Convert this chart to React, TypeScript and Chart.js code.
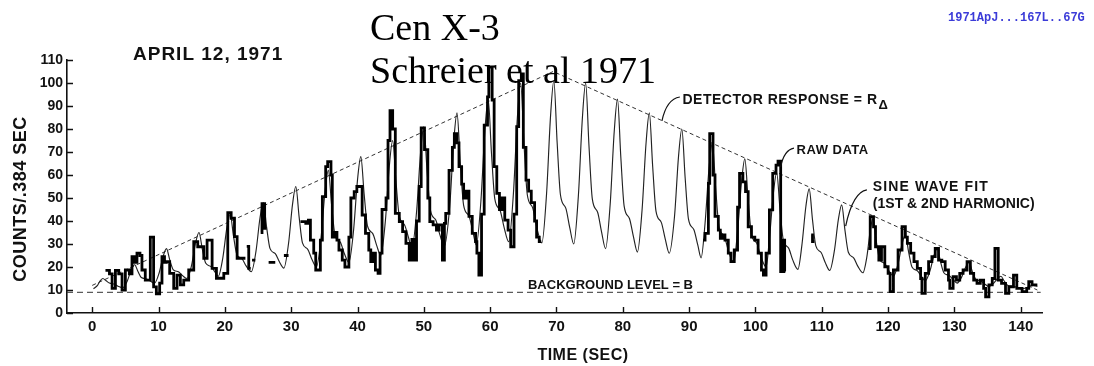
import React, { useEffect, useRef } from 'react';
import { Chart, registerables } from 'chart.js';

Chart.register(...registerables);

// ---------- data ----------
const xTicks = [0, 10, 20, 30, 40, 50, 60, 70, 80, 90, 100, 110, 120, 130, 140];
const yTicks = [0, 10, 20, 30, 40, 50, 60, 70, 80, 90, 100, 110];

// Sine wave fit (1st & 2nd harmonic): [time s, counts]
const sineFit: [number, number][] = [
  [0.2, 10.5], [0.8, 12], [1.2, 14], [1.6, 15], [2.1, 14], [2.6, 13], [3.4, 12.5], [4.0, 11.5],
  [4.6, 11], [5.3, 14], [5.9, 19], [6.4, 21], [6.9, 18], [7.4, 15.4], [8.2, 14.8], [8.8, 13.8],
  [9.4, 13], [10.1, 17.5], [10.7, 24.7], [11.2, 28], [11.7, 23], [12.2, 18.9], [13.0, 17.9], [13.6, 16.3],
  [14.3, 15], [15.0, 21], [15.6, 30.6], [16.1, 35], [16.6, 27.8], [17.1, 21.7], [17.9, 20.2], [18.5, 17.9],
  [19.0, 16], [19.7, 24.1], [20.3, 37], [20.8, 43], [21.3, 33.5], [21.8, 25.5], [22.6, 23.5], [23.2, 20.5],
  [24.0, 18], [24.7, 27], [25.3, 41.4], [25.8, 48], [26.3, 37.2], [26.8, 28.1], [27.6, 25.8], [28.2, 22.4],
  [28.9, 19.5], [29.6, 30.2], [30.2, 47.2], [30.7, 55], [31.2, 41.7], [31.7, 30.5], [32.5, 27.7], [33.1, 23.5],
  [33.8, 20], [34.5, 32.6], [35.1, 52.8], [35.6, 62], [36.1, 46.8], [36.6, 34], [37.4, 30.8], [38.0, 26],
  [38.7, 22], [39.4, 35.8], [40.0, 57.9], [40.5, 68], [41.0, 51.7], [41.5, 37.9], [42.3, 34.5], [42.9, 29.3],
  [43.5, 25], [44.2, 40], [44.8, 64], [45.3, 75], [45.8, 57.1], [46.3, 42.1], [47.1, 38.3], [47.7, 32.7],
  [48.2, 28], [48.9, 43.9], [49.5, 69.3], [50.0, 81], [50.5, 61.2], [51.0, 44.6], [51.8, 40.4], [52.4, 34.2],
  [53.1, 29], [53.9, 46.4], [54.5, 74.2], [55.0, 87], [55.5, 65.2], [56.0, 46.8], [56.8, 42.2], [57.4, 35.3],
  [57.9, 29.5], [58.6, 48.5], [59.2, 79], [59.7, 93], [60.2, 69.4], [60.7, 49.6], [61.5, 44.6], [62.1, 37.2],
  [62.8, 31], [63.5, 51.7], [64.1, 84.8], [64.6, 100], [65.1, 73.6], [65.6, 51.4], [66.4, 45.8], [67.0, 37.5],
  [67.8, 30.5], [68.5, 51.7], [69.1, 85.5], [69.6, 101], [70.1, 74], [70.6, 51.3], [71.4, 45.6], [72.0, 37.1],
  [72.6, 30], [73.3, 51], [73.9, 84.6], [74.4, 100], [74.9, 72.6], [75.4, 49.6], [76.2, 43.8], [76.8, 35.2],
  [77.4, 28], [78.1, 47.5], [78.7, 78.7], [79.2, 93], [79.7, 67.7], [80.2, 46.5], [81.0, 41.1], [81.6, 33.2],
  [82.2, 26.5], [82.9, 44.7], [83.5, 73.7], [84.0, 87], [84.5, 63.8], [85.0, 44.3], [85.8, 39.4], [86.4, 32.1],
  [87.0, 26], [87.8, 42.2], [88.4, 68.1], [88.9, 80], [89.4, 58.7], [89.9, 40.8], [90.7, 36.3], [91.3, 29.6],
  [91.8, 24], [92.4, 39], [93.0, 63], [93.5, 74], [94.0, 54.2], [94.5, 37.6], [95.3, 33.4], [95.9, 27.2],
  [96.7, 22], [97.3, 35.5], [97.9, 57.1], [98.4, 67], [98.9, 49.1], [99.4, 34.1], [100.2, 30.3], [100.8, 24.7],
  [101.6, 20], [102.1, 32.3], [102.7, 52], [103.2, 61], [103.7, 45], [104.2, 31.6], [105.0, 28.2], [105.6, 23.2],
  [106.4, 19], [107.0, 29.5], [107.6, 46.3], [108.1, 54], [108.6, 40.5], [109.1, 29.2], [109.9, 26.3], [110.5, 22.1],
  [111.2, 18.5], [111.9, 27.1], [112.5, 40.7], [113.0, 47], [113.5, 35.8], [114.0, 26.4], [114.8, 24], [115.4, 20.5],
  [116.2, 17.5], [116.8, 24.5], [117.3, 35.8], [117.7, 41], [118.2, 31.5], [118.7, 23.5], [119.5, 21.5], [120.1, 18.5],
  [120.8, 16], [121.5, 21.4], [122.1, 30], [122.6, 34], [123.1, 26.4], [123.6, 20], [124.4, 18.4], [125.0, 16],
  [125.6, 14], [126.3, 18.2], [126.9, 24.9], [127.4, 28], [127.9, 22.3], [128.4, 17.5], [129.2, 16.3], [129.8, 14.5],
  [130.4, 13], [131.1, 15.7], [131.7, 20], [132.2, 22], [132.7, 18], [133.2, 14.7], [134.0, 13.8], [134.6, 12.5],
  [135.2, 11.5], [135.9, 12.9], [136.5, 15], [137.0, 16], [137.5, 13.9], [138.0, 12.1], [138.8, 11.7], [139.4, 11.1],
  [140.2, 10.5], [140.9, 11], [141.5, 11.8], [141.9, 12], [142.5, 11.5],
];

// Raw data, counts per .384 s bin: [bin start time s, counts]; null = no data
const rawData: [number, number | null][] = [
  [2.0, 18.5], [2.6, 17], [3.0, 10.7], [3.5, 18.5], [4.0, 17], [4.5, 10], [5.0, 18.7], [5.6, 17],
  [6.0, 24.5], [6.4, 22], [6.75, 26], [7.2, 25], [7.5, 18.7], [8.0, 14.3], [8.76, 33], [9.26, 11.4],
  [9.67, 8.3], [10.17, 13], [10.52, 24.5], [10.9, 22], [11.18, 22.3], [11.68, 17.2], [12.29, 10.7], [12.79, 16.5],
  [13.29, 12.2], [13.8, 14.3], [14.55, 18.7], [15.31, 31], [15.91, 28.8], [16.82, 23.8], [17.32, 31.7], [18.08, 19.4],
  [18.73, 15.1], [19.84, 17.2], [20.44, 43.6], [20.95, 41.2], [21.45, 33.2], [21.85, 23.8], [23.1, 23.8], [23.2, null],
  [23.3, 29], [23.6, 19.4], [23.9, 19.4], [24.0, null], [24.1, 23], [24.6, 23], [24.7, null],
  [25.4, 35], [25.6, 47.5], [26.0, 36.8], [26.3, 36.8], [26.4, null],
  [26.6, 22], [27.6, 22], [27.7, null], [28.9, 25], [29.6, 25], [29.7, null],
  [31.4, 39.7], [32.2, 39], [32.6, 40.4], [32.9, 31.7], [33.4, 26], [33.7, 18.7], [34.4, 31.7], [34.7, 50.6],
  [35.2, 63.6], [35.5, 65.8], [36.0, 60], [36.2, 33], [36.6, 35], [36.9, 31.7], [37.2, 27.4], [37.7, 23],
  [38.1, 20], [38.7, 33], [39.0, 50], [39.5, 52.8], [39.9, 55], [40.4, 55], [40.7, 42.6], [41.2, 34.6],
  [41.7, 27.4], [42.0, 22.3], [42.3, 26], [42.7, 18.7], [43.1, 17.2], [43.4, 26], [43.7, 45], [44.3, 50],
  [44.6, 75], [44.9, 88], [45.3, 80], [45.7, 43.3], [46.3, 39.7], [46.8, 35.4], [47.3, 30.3], [47.8, 23],
  [48.2, 32], [48.6, 23], [48.9, 40], [49.3, 55], [49.6, 80.5], [50.1, 71], [50.6, 50], [50.9, 39.7],
  [51.4, 38.3], [51.9, 36], [52.3, 38.3], [52.8, 23], [53.1, 39], [53.3, 43.3], [53.8, 62], [54.3, 72],
  [54.6, 78], [55.0, 74], [55.3, 63.6], [55.7, 56], [56.0, 50], [56.4, 53], [56.8, 42], [57.3, 34.6],
  [57.8, 31], [58.0, 26], [58.3, 16.5], [58.7, 43], [59.1, 81.7], [59.6, 94], [59.8, 107], [60.3, 92.6],
  [60.6, 63.6], [61.0, 52], [61.4, 45], [61.8, 50], [62.2, 40.4], [62.7, 36], [63.1, 28.8], [63.6, 43],
  [64.0, 81], [64.3, 101], [64.7, 104], [65.0, 72], [65.4, 57.8], [65.8, 53], [66.2, 48], [66.7, 40],
  [67.0, 33], [67.4, 31], [67.7, 31], [67.8, null],
  [92.1, 31.7], [92.4, 34.6], [92.9, 56.4], [93.1, 78], [93.6, 60], [93.9, 42], [94.4, 36], [94.7, 32.5],
  [95.1, 34], [95.4, 31.7], [95.9, 26], [96.3, 22.3], [96.8, 27.4], [97.3, 46], [97.6, 60.7], [98.1, 57],
  [98.5, 52.8], [98.9, 37.5], [99.4, 33], [99.9, 31.7], [100.4, 26], [100.9, 18.7], [101.2, 16.5], [101.6, 26],
  [102.1, 44.8], [102.6, 60.7], [103.1, 64.3], [103.4, 66], [103.8, 18], [104.0, 31.7], [104.4, 18], [104.5, 18],
  [104.6, null],
  [108.4, 34], [108.6, 31], [108.9, 31], [109.0, null],
  [117.0, 28], [117.3, 41.9], [117.8, 37.5], [118.1, 28.8], [118.6, 23], [119.0, 28.8], [119.5, 20.1], [120.0, 17.2],
  [120.3, 9.3], [120.8, 18.7], [121.5, 27.4], [122.1, 37.5], [122.6, 33], [122.9, 30.3], [123.4, 26], [123.9, 22.3],
  [124.4, 19.4], [124.9, 15], [125.1, 8.5], [125.6, 17.2], [126.1, 22.3], [126.6, 24.5], [127.1, 28.1], [127.6, 23],
  [128.1, 22.3], [128.6, 18.7], [129.1, 14.3], [129.3, 10.7], [129.8, 15.8], [130.3, 14.3], [130.8, 17.2], [131.3, 18.7],
  [131.9, 22.3], [132.4, 17.2], [132.9, 14.3], [133.4, 12.9], [133.9, 14.3], [134.4, 10.7], [134.7, 7], [135.2, 12.2],
  [135.7, 15], [136.1, 28.1], [136.6, 14.3], [137.1, 12.9], [137.7, 8.5], [138.2, 11.4], [138.9, 16.5], [139.4, 10.7],
  [140.2, 9.3], [140.9, 10.7], [141.2, 13.6], [141.7, 12.2], [142.5, 12.2],
];

// Detector response R_delta (triangle) and background level B
const detectorResponse: [number, number][] = [[0, 12], [69.5, 105], [142.5, 10]];
const backgroundLevel: [number, number][] = [[-3.8, 9], [143, 9]];

// ---------- styling / layout (not data) ----------
const SANS = "'Liberation Sans', Arial, sans-serif";
const SERIF = "'Liberation Serif', 'Times New Roman', serif";
const INK = '#111';

const annotations = [
  { text: 'DETECTOR RESPONSE = R', t: 89.0, v: 92.6, size: 14, spacing: 0.5, sub: 'Δ' },
  { text: 'RAW DATA', t: 106.2, v: 70.9, size: 13, spacing: 0.5 },
  { text: 'SINE WAVE FIT', t: 117.7, v: 54.8, size: 14, spacing: 1.1 },
  { text: '(1ST & 2ND HARMONIC)', t: 117.7, v: 47.4, size: 14, spacing: 0 },
  { text: 'BACKGROUND LEVEL = B', t: 65.7, v: 12.2, size: 13, spacing: 0 },
];
const leaders = [
  { from: [88.6, 93.9], ctrl: [86.6, 93.0], to: [85.9, 83.5] },
  { from: [105.8, 71.7], ctrl: [104.3, 70.9], to: [103.8, 63.5] },
  { from: [116.8, 53.5], ctrl: [114.7, 52.6], to: [113.6, 37.8] },
];

const overlayPlugin = {
  id: 'overlay',
  afterDraw(chart: any) {
    const { ctx, chartArea } = chart;
    const x = chart.scales.x;
    const y = chart.scales.y;
    ctx.save();
    // inward tick marks
    ctx.strokeStyle = INK;
    ctx.lineWidth = 1.4;
    ctx.beginPath();
    for (const t of xTicks) {
      const px = Math.round(x.getPixelForValue(t)) + 0.5;
      ctx.moveTo(px, chartArea.bottom);
      ctx.lineTo(px, chartArea.bottom - 6);
    }
    for (const v of yTicks) {
      const py = Math.round(y.getPixelForValue(v)) + 0.5;
      ctx.moveTo(chartArea.left, py);
      ctx.lineTo(chartArea.left + 6, py);
    }
    ctx.stroke();

    // annotation leaders
    ctx.lineWidth = 1.2;
    ctx.beginPath();
    for (const l of leaders) {
      ctx.moveTo(x.getPixelForValue(l.from[0]), y.getPixelForValue(l.from[1]));
      ctx.quadraticCurveTo(
        x.getPixelForValue(l.ctrl[0]), y.getPixelForValue(l.ctrl[1]),
        x.getPixelForValue(l.to[0]), y.getPixelForValue(l.to[1])
      );
    }
    ctx.stroke();

    // annotation labels
    ctx.fillStyle = INK;
    ctx.textAlign = 'left';
    ctx.textBaseline = 'middle';
    for (const a of annotations) {
      ctx.font = `bold ${a.size}px ${SANS}`;
      (ctx as any).letterSpacing = `${a.spacing}px`;
      const px = x.getPixelForValue(a.t);
      const py = y.getPixelForValue(a.v);
      ctx.fillText(a.text, px, py);
      if (a.sub) {
        const w = ctx.measureText(a.text).width;
        ctx.font = `bold ${a.size - 1}px ${SANS}`;
        ctx.fillText(a.sub, px + w + 1, py + 5);
      }
    }

    // axis titles
    (ctx as any).letterSpacing = '0.5px';
    ctx.font = `bold 16px ${SANS}`;
    ctx.textAlign = 'center';
    ctx.fillText('TIME (SEC)', 583, 356);
    ctx.save();
    ctx.translate(21, 199);
    ctx.rotate(-Math.PI / 2);
    ctx.font = `bold 18px ${SANS}`;
    ctx.fillText('COUNTS/.384 SEC', 0, 0);
    ctx.restore();

    // date
    (ctx as any).letterSpacing = '1px';
    ctx.textAlign = 'left';
    ctx.font = `bold 19px ${SANS}`;
    ctx.fillText('APRIL 12, 1971', 133, 55);

    // title text
    (ctx as any).letterSpacing = '0px';
    ctx.textBaseline = 'alphabetic';
    ctx.font = `38px ${SERIF}`;
    ctx.fillStyle = '#000';
    ctx.fillText('Cen X-3', 370, 40);
    ctx.fillText('Schreier et al 1971', 370, 83);

    // bibcode
    ctx.textBaseline = 'middle';
    ctx.font = `bold 12px 'Liberation Mono', 'DejaVu Sans Mono', monospace`;
    ctx.fillStyle = '#3b3bd8';
    ctx.fillText('1971ApJ...167L..67G', 948, 18);
    ctx.restore();
  },
};

export default function App() {
  const canvasRef = useRef<HTMLCanvasElement>(null);

  useEffect(() => {
    const canvas = canvasRef.current;
    if (!canvas) return;
    const chart = new Chart(canvas, {
      type: 'line',
      data: {
        datasets: [
          {
            label: 'Raw data',
            data: rawData.map(([t, v]) => ({ x: t, y: v })),
            borderColor: '#000',
            borderWidth: 2.8,
            stepped: 'before',
            spanGaps: false,
            pointRadius: 0,
            fill: false,
            order: 0,
          } as any,
          {
            label: 'Sine wave fit',
            data: sineFit.map(([t, v]) => ({ x: t, y: v })),
            borderColor: '#222',
            borderWidth: 1.15,
            cubicInterpolationMode: 'monotone',
            pointRadius: 0,
            fill: false,
            order: 1,
          },
          {
            label: 'Detector response',
            data: detectorResponse.map(([t, v]) => ({ x: t, y: v })),
            borderColor: '#333',
            borderWidth: 1,
            borderDash: [4, 3],
            pointRadius: 0,
            fill: false,
            order: 2,
          },
          {
            label: 'Background level',
            data: backgroundLevel.map(([t, v]) => ({ x: t, y: v })),
            borderColor: '#333',
            borderWidth: 1,
            borderDash: [6, 4],
            pointRadius: 0,
            fill: false,
            order: 3,
          },
        ],
      },
      options: {
        responsive: false,
        animation: false,
        devicePixelRatio: 1,
        layout: { padding: { top: 60, right: 52, left: 0, bottom: 0 } },
        plugins: {
          legend: { display: false },
          tooltip: { enabled: false },
          title: { display: false },
        },
        scales: {
          x: {
            type: 'linear',
            min: -3.8,
            max: 143.2,
            afterBuildTicks: (s: any) => {
              s.ticks = xTicks.map((v) => ({ value: v }));
            },
            afterFit: (s: any) => {
              s.height = 53;
            },
            grid: { display: true, drawOnChartArea: false, drawTicks: false },
            border: { display: true, color: INK, width: 1.6 },
            ticks: {
              padding: 5,
              color: INK,
              autoSkip: false,
              maxRotation: 0,
              font: { family: SANS, size: 15, weight: 'bold' },
            },
          },
          y: {
            type: 'linear',
            min: 0,
            max: 110,
            afterBuildTicks: (s: any) => {
              s.ticks = yTicks.map((v) => ({ value: v }));
            },
            afterFit: (s: any) => {
              s.width = 67;
            },
            grid: { display: true, drawOnChartArea: false, drawTicks: false },
            border: { display: true, color: INK, width: 1.6 },
            ticks: {
              padding: 4,
              color: INK,
              font: { family: SANS, size: 14, weight: 'bold' },
            },
          },
        },
      },
      plugins: [overlayPlugin],
    });
    return () => chart.destroy();
  }, []);

  return (
    <div style={{ position: 'absolute', left: 0, top: 0, width: 1094, height: 366, background: '#fff' }}>
      <canvas ref={canvasRef} width={1094} height={366} style={{ display: 'block' }} />
    </div>
  );
}
